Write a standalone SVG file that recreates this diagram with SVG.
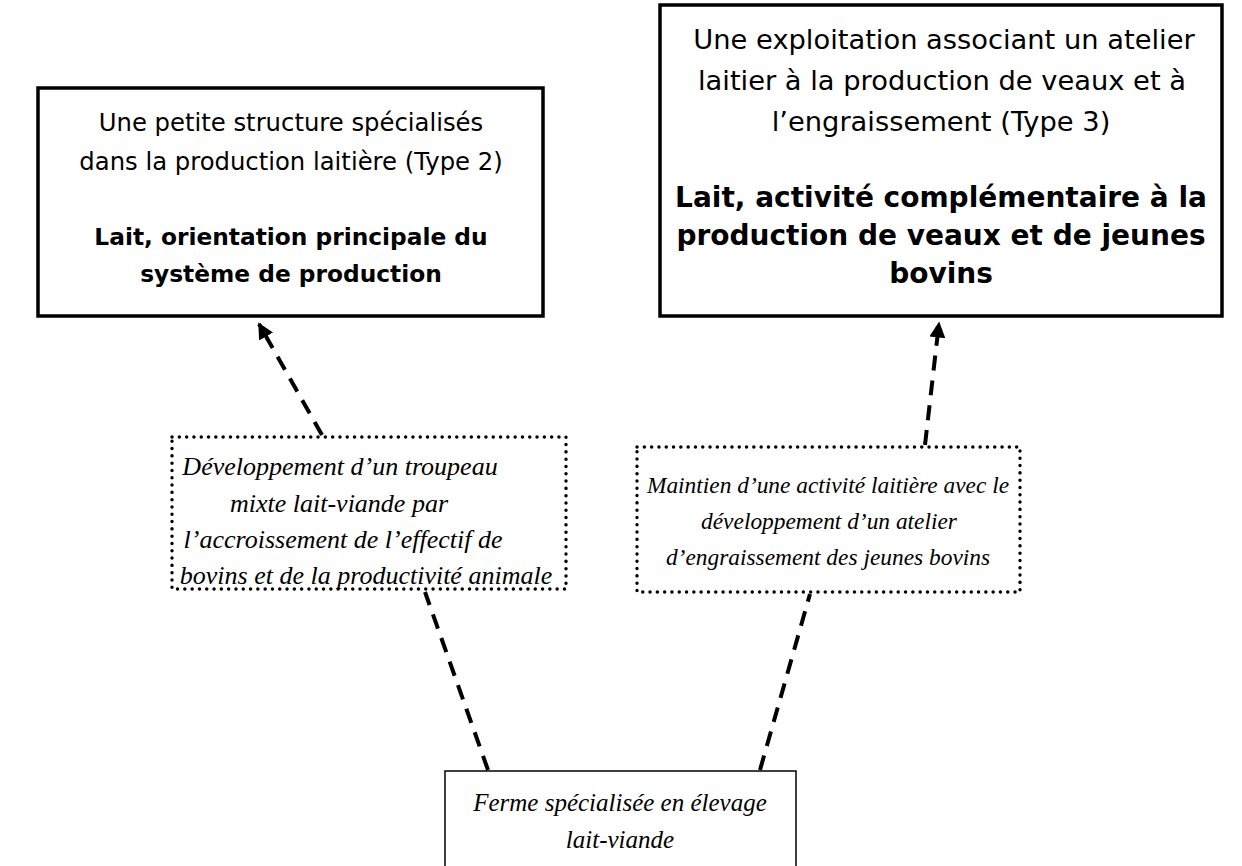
<svg xmlns="http://www.w3.org/2000/svg" width="1242" height="866" viewBox="0 0 1242 866">
<style>
.sans{font-family:"DejaVu Sans","Liberation Sans",sans-serif;fill:#000;text-anchor:middle}
.l{font-size:24.3px}
.lb{font-size:23.3px;font-weight:bold}
.r{font-size:27.3px}
.rb{font-size:28px;font-weight:bold}
.it{font-family:"Liberation Serif","Times New Roman",serif;font-style:italic;fill:#000;text-anchor:middle}
.i1{font-size:26px}
.i2{font-size:23.4px}
.i3{font-size:25px}
.solid{fill:#fff;stroke:#000;stroke-width:3.5}
.thin{fill:#fff;stroke:#000;stroke-width:1.5}
.dot{fill:#fff;stroke:#000;stroke-width:3.4;stroke-dasharray:0.1 7.2;stroke-linecap:round}
.dash{fill:none;stroke:#000;stroke-width:4;stroke-dasharray:15 10}
</style>
<defs>
<marker id="ah" viewBox="0 0 10 10" refX="9" refY="5" markerWidth="4" markerHeight="4" orient="auto" markerUnits="strokeWidth">
<path d="M0,0 L10,5 L0,10 z" fill="#000"/>
</marker>
</defs>
<rect width="1242" height="866" fill="#fff"/>
<g id="connectors">
<line class="dash" x1="322" y1="435" x2="259" y2="324" marker-end="url(#ah)"/>
<line class="dash" x1="925" y1="445" x2="939" y2="323" marker-end="url(#ah)"/>
<line class="dash" x1="488" y1="770" x2="425" y2="592"/>
<line class="dash" x1="760" y1="770" x2="810" y2="594"/>
</g>
<g id="type2">
<rect class="solid" x="38" y="88" width="505" height="228"/>
<text class="sans l" x="291" y="131">Une petite structure spécialisés</text>
<text class="sans l" x="291" y="170">dans la production laitière (Type 2)</text>
<text class="sans lb" x="291" y="245">Lait, orientation principale du</text>
<text class="sans lb" x="291" y="282">système de production</text>
</g>
<g id="type3">
<rect class="solid" x="660" y="5" width="562" height="311"/>
<text class="sans r" x="944" y="49">Une exploitation associant un atelier</text>
<text class="sans r" x="942" y="90">laitier à la production de veaux et à</text>
<text class="sans r" x="941" y="131">l’engraissement (Type 3)</text>
<text class="sans rb" x="941" y="207">Lait, activité complémentaire à la</text>
<text class="sans rb" x="941" y="245">production de veaux et de jeunes</text>
<text class="sans rb" x="941" y="283">bovins</text>
</g>
<g id="dev-mixte">
<rect class="dot" x="172" y="437" width="394" height="152"/>
<text class="it i1" x="340" y="475">Développement d’un troupeau</text>
<text class="it i1" x="339" y="512">mixte lait-viande par</text>
<text class="it i1" x="343" y="548">l’accroissement de l’effectif de</text>
<text class="it i1" x="366" y="584">bovins et de la productivité animale</text>
</g>
<g id="maintien">
<rect class="dot" x="637" y="447" width="383" height="145"/>
<text class="it i2" x="828" y="493">Maintien d’une activité laitière avec le</text>
<text class="it i2" x="829" y="529">développement d’un atelier</text>
<text class="it i2" x="828" y="565">d’engraissement des jeunes bovins</text>
</g>
<g id="ferme">
<rect class="thin" x="445" y="771" width="351" height="110"/>
<text class="it i3" x="620" y="811">Ferme spécialisée en élevage</text>
<text class="it i3" x="620" y="848">lait-viande</text>
</g>
</svg>
